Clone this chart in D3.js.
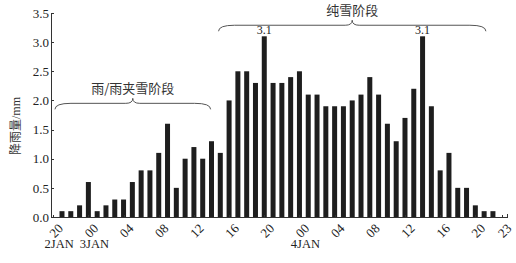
<!DOCTYPE html>
<html lang="zh">
  <head>
    <meta charset="utf-8">
    <title>降雨量</title>
    <style>
    body { margin: 0; background: #fff; }

    .axis path, .axis line {
        stroke: #333;
        stroke-width: 1;
        shape-rendering: crispEdges;
    }

    .axis text {
        font-family: "Liberation Serif", "Times New Roman", serif;
        font-size: 13px;
        fill: #222;
    }

    .axis-title {
        text-anchor: middle;
        font-size: 12px;
        font-family: "Liberation Serif", "Noto Sans CJK SC", serif;
        fill: #333;
    }

    .date-label {
        text-anchor: middle;
        font-size: 12.5px;
        font-family: "Liberation Serif", "Times New Roman", serif;
        fill: #222;
    }

    .brace {
        fill: none;
        stroke: #555;
        stroke-width: 1;
    }

    .phase-label {
        text-anchor: middle;
        font-size: 13px;
        font-family: "Noto Sans CJK SC", sans-serif;
        fill: #333;
    }

    .peak-label {
        text-anchor: middle;
        font-size: 12px;
        font-family: "Liberation Serif", "Times New Roman", serif;
        fill: #222;
    }
    </style>
  </head>
  <body>
    <div id="chart"></div>
  </body>
  <script src="https://cdn.jsdelivr.net/npm/d3@7/dist/d3.min.js"></script>
  <script>

    // hourly rainfall, 2 JAN 21h .. 4 JAN 22h (hour index 1..50 from 2 JAN 20h)
    var hours = d3.range(1, 51);
    var rainfall = [0.1, 0.1, 0.2, 0.6, 0.1, 0.2, 0.3, 0.3, 0.6, 0.8,
                    0.8, 1.1, 1.6, 0.5, 1.0, 1.2, 1.0, 1.3, 1.1, 2.0,
                    2.5, 2.5, 2.3, 3.1, 2.3, 2.3, 2.4, 2.5, 2.1, 2.1,
                    1.9, 1.9, 1.9, 2.0, 2.1, 2.4, 2.1, 1.6, 1.3, 1.7,
                    2.2, 3.1, 1.9, 0.8, 1.1, 0.5, 0.5, 0.2, 0.1, 0.1];

    var tickHours = [0, 4, 8, 12, 16, 20, 24, 28, 32, 36, 40, 44, 48, 51];
    var tickLabels = ["20", "00", "04", "08", "12", "16", "20", "00", "04", "08", "12", "16", "20", "23"];

    var dateLabels = ["2JAN", "3JAN", "4JAN"];
    var dateHours = [0, 4, 28];

    var yTicks = [0, 0.5, 1.0, 1.5, 2.0, 2.5, 3.0, 3.5];

    var phaseLabels = ["雨/雨夹雪阶段", "纯雪阶段"];
    var phaseStart = [0.2, 18.8];
    var phaseEnd = [17.9, 49.2];
    var phaseLevel = [1.95, 3.29];

    var width = 516, height = 263;

    var svg = d3.select("#chart")
                .append("svg")
                .attr("width", width)
                .attr("height", height);

    var xScale = d3.scaleLinear()
                   .domain([-0.25, 51.6])
                   .range([51, 507]);

    var yScale = d3.scaleLinear()
                   .domain([0, 3.5])
                   .range([217, 13]);

    var barWidth = 5;

    svg.selectAll("rect.bar")
       .data(hours)
       .enter()
       .append("rect")
       .attr("class", "bar")
       .attr("x", function(d) { return xScale(d) - barWidth / 2; })
       .attr("y", function(d, i) { return yScale(rainfall[i]); })
       .attr("width", barWidth)
       .attr("height", function(d, i) { return yScale(0) - yScale(rainfall[i]); })
       .style("fill", "#1e1e1e");

    var yAxis = d3.axisLeft(yScale)
                  .tickValues(yTicks)
                  .tickFormat(d3.format(".1f"))
                  .tickSizeInner(-3)
                  .tickSizeOuter(0)
                  .tickPadding(2);

    svg.append("g")
       .attr("class", "y axis")
       .attr("transform", "translate(" + xScale.range()[0] + ",0)")
       .call(yAxis);

    var xAxis = d3.axisBottom(xScale)
                  .tickValues(tickHours)
                  .tickFormat(function(d, i) { return tickLabels[i]; })
                  .tickSizeInner(-2)
                  .tickSizeOuter(-3);

    var xg = svg.append("g")
                .attr("class", "x axis")
                .attr("transform", "translate(0," + yScale(0) + ")")
                .call(xAxis);

    xg.selectAll(".tick text")
      .attr("text-anchor", "end")
      .attr("dy", "0.35em")
      .attr("transform", "translate(7,9) rotate(-45)")
      .attr("y", 0)
      .attr("x", 0);

    svg.selectAll("text.date-label")
       .data(dateLabels)
       .enter()
       .append("text")
       .attr("class", "date-label")
       .attr("x", function(d, i) { return xScale(dateHours[i]) + 6; })
       .attr("y", 248)
       .text(function(d) { return d; });

    svg.append("text")
       .attr("class", "axis-title")
       .attr("transform", "translate(20,126) rotate(-90)")
       .text("降雨量/mm");

    // curly braces marking the two precipitation phases
    function bracePath(x1, x2, y) {
        var xm = (x1 + x2) / 2, r = 16, h = 6, t = 5, r2 = 7;
        return "M" + x1 + "," + (y + h) +
               " Q" + x1 + "," + y + " " + (x1 + r) + "," + y +
               " L" + (xm - r2) + "," + y +
               " Q" + xm + "," + y + " " + xm + "," + (y - t) +
               " Q" + xm + "," + y + " " + (xm + r2) + "," + y +
               " L" + (x2 - r) + "," + y +
               " Q" + x2 + "," + y + " " + x2 + "," + (y + h);
    }

    phaseLabels.forEach(function(label, i) {
        var x1 = xScale(phaseStart[i]), x2 = xScale(phaseEnd[i]), y = yScale(phaseLevel[i]);

        svg.append("path")
           .attr("class", "brace")
           .attr("d", bracePath(x1, x2, y));

        svg.append("text")
           .attr("class", "phase-label")
           .attr("x", (x1 + x2) / 2)
           .attr("y", y - 10)
           .text(label);
    });

    // label the two peaks
    var peak = d3.max(rainfall);
    svg.selectAll("text.peak-label")
       .data(hours.filter(function(d, i) { return rainfall[i] === peak; }))
       .enter()
       .append("text")
       .attr("class", "peak-label")
       .attr("x", function(d) { return xScale(d); })
       .attr("y", yScale(peak) - 2)
       .text(d3.format(".1f")(peak));

  </script>
</html>
